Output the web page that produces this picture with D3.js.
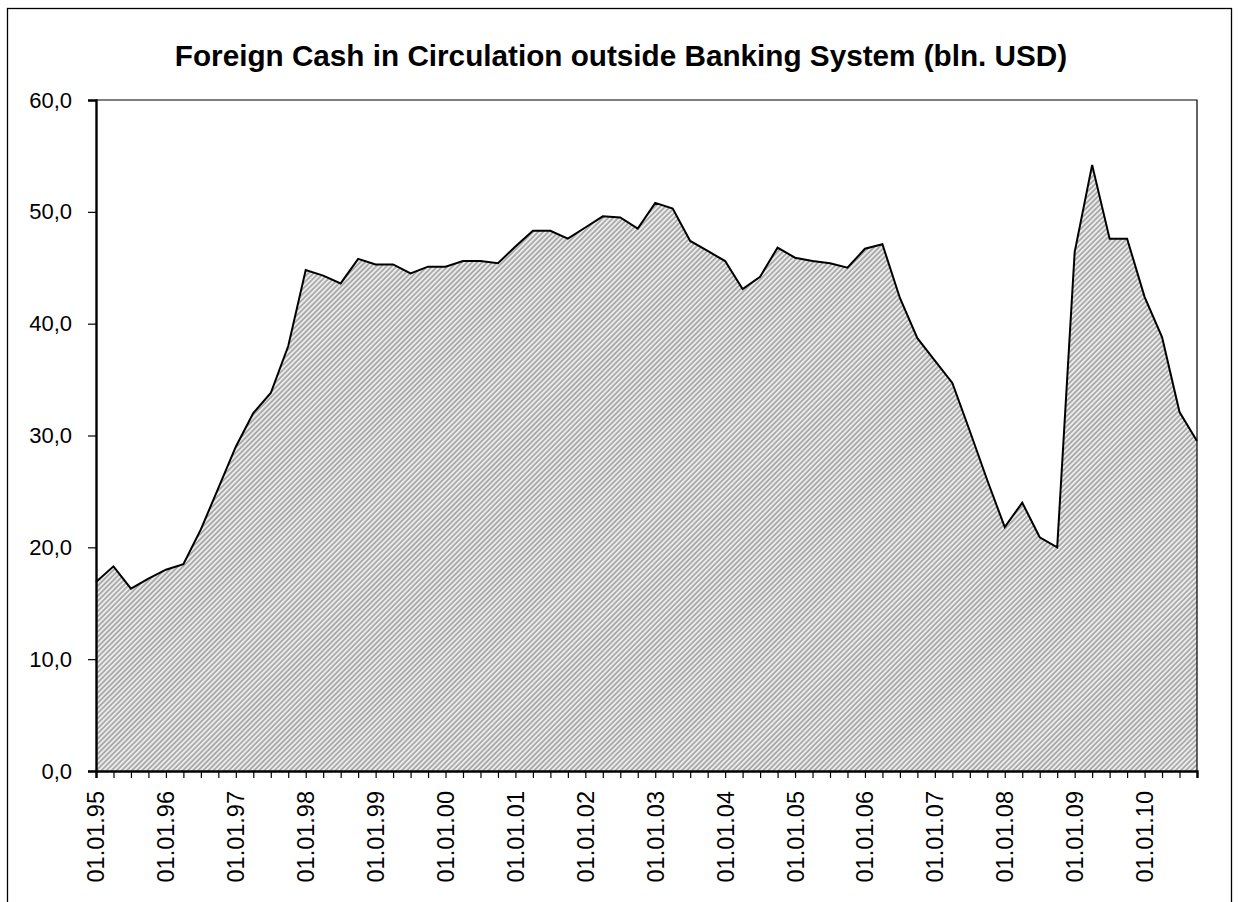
<!DOCTYPE html>
<html>
<head>
<meta charset="utf-8">
<script src="https://cdn.jsdelivr.net/npm/d3@7"></script>
<style>
  html, body { margin: 0; padding: 0; background: #fff; }
  svg { display: block; font-family: Arial, "Liberation Sans", sans-serif; }
</style>
</head>
<body>
<svg id="chart" width="1238" height="902"></svg>
<script>
// Quarterly observations, 01.01.95 – 01.10.10
const years = ["95","96","97","98","99","00","01","02","03","04","05","06","07","08","09","10"];
const quarterStarts = ["01.01", "01.04", "01.07", "01.10"];
const categories = years.flatMap(y => quarterStarts.map(q => `${q}.${y}`));

// Foreign cash outside the banking system, bln. USD
const cashValues = [
  16.9, 18.3, 16.3, 17.2, 18.0, 18.5, 21.6, 25.3,
  29.0, 32.0, 33.8, 38.0, 44.8, 44.3, 43.6, 45.8,
  45.3, 45.3, 44.5, 45.1, 45.1, 45.6, 45.6, 45.4,
  46.9, 48.3, 48.3, 47.6, 48.6, 49.6, 49.5, 48.5,
  50.8, 50.3, 47.4, 46.5, 45.6, 43.1, 44.2, 46.8,
  45.9, 45.6, 45.4, 45.0, 46.7, 47.1, 42.3, 38.7,
  36.7, 34.7, 30.4, 26.0, 21.8, 24.0, 20.9, 20.0,
  46.4, 54.2, 47.6, 47.6, 42.4, 38.8, 32.1, 29.5
];

const yTicks = [0, 10, 20, 30, 40, 50, 60];
const titleText = "Foreign Cash in Circulation outside Banking System (bln. USD)";

const data = categories.map((c, i) => ({ cat: c, v: cashValues[i] }));

const svg = d3.select("#chart");
const plot = { left: 96, top: 100, right: 1197, bottom: 771 };

// outer chart frame
svg.append("rect")
  .attr("x", 7.5).attr("y", 8.5)
  .attr("width", 1224).attr("height", 920)
  .attr("fill", "#fff")
  .attr("stroke", "#000").attr("stroke-width", 1.3);

// diagonal hatch fill
const defs = svg.append("defs");
const pat = defs.append("pattern")
  .attr("id", "hatch")
  .attr("patternUnits", "userSpaceOnUse")
  .attr("width", 3.6).attr("height", 10)
  .attr("patternTransform", "rotate(45)");
pat.append("rect").attr("width", 3.6).attr("height", 10).attr("fill", "#ebebeb");
pat.append("rect").attr("width", 1.8).attr("height", 10).attr("fill", "#aaaaaa");

const x = d3.scalePoint().domain(categories).range([plot.left, plot.right]);
const y = d3.scaleLinear().domain([0, 60]).range([plot.bottom, plot.top]);

// title
svg.append("text")
  .attr("x", 621).attr("y", 66)
  .attr("text-anchor", "middle")
  .attr("font-size", 29.7)
  .attr("font-weight", "bold")
  .attr("fill", "#000")
  .text(titleText);

// area
const area = d3.area()
  .x(d => x(d.cat))
  .y0(y(0))
  .y1(d => y(d.v));
svg.append("path")
  .datum(data)
  .attr("d", area)
  .attr("fill", "url(#hatch)");

const line = d3.line()
  .x(d => x(d.cat))
  .y(d => y(d.v));
svg.append("path")
  .datum(data)
  .attr("d", line)
  .attr("fill", "none")
  .attr("stroke", "#000")
  .attr("stroke-width", 2)
  .attr("stroke-linejoin", "miter");

// plot frame: top and right edges
svg.append("path")
  .attr("d", `M${plot.left},${plot.top}H${plot.right}V${plot.bottom}`)
  .attr("fill", "none")
  .attr("stroke", "#000")
  .attr("stroke-width", 1.2);

// y axis
const fmt = v => d3.format(".1f")(v).replace(".", ",");
const yAxis = svg.append("g")
  .attr("transform", `translate(${plot.left},0)`)
  .call(d3.axisLeft(y).tickValues(yTicks).tickFormat(fmt).tickSize(8).tickPadding(16));
yAxis.select(".domain").attr("stroke", "#000").attr("stroke-width", 2.4);
yAxis.selectAll(".tick line").attr("stroke", "#000").attr("stroke-width", 1.2);
yAxis.selectAll(".tick text")
  .attr("font-size", 22)
  .attr("font-family", "Arial, 'Liberation Sans', sans-serif")
  .attr("fill", "#000");

// x axis
const xAxis = svg.append("g")
  .attr("transform", `translate(0,${plot.bottom})`)
  .call(d3.axisBottom(x).tickSize(7).tickFormat(""));
xAxis.select(".domain").attr("stroke", "#000").attr("stroke-width", 2.4);
xAxis.selectAll(".tick line").attr("stroke", "#000").attr("stroke-width", 1.2);

// category labels on the first quarter of each year
const labelled = categories.filter(c => c.startsWith("01.01."));
svg.append("g")
  .selectAll("text")
  .data(labelled)
  .join("text")
  .attr("transform", d => `translate(${x(d)},${plot.bottom + 20}) rotate(-90)`)
  .attr("text-anchor", "end")
  .attr("dy", "0.36em")
  .attr("font-size", 23.5)
  .attr("fill", "#000")
  .text(d => d);
</script>
</body>
</html>
